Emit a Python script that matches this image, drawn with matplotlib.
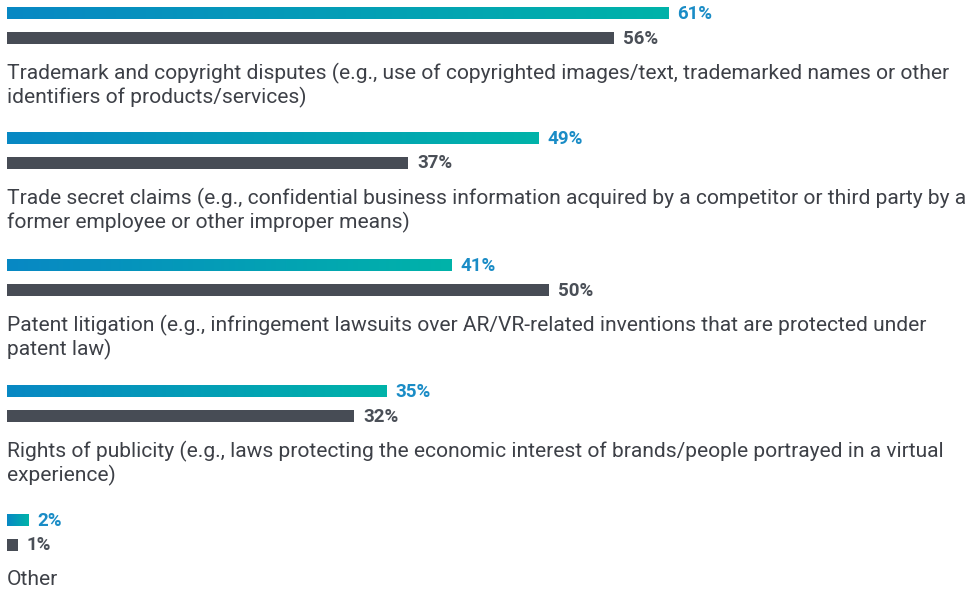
import numpy as np
import matplotlib.pyplot as plt
from matplotlib.colors import LinearSegmentedColormap

categories = [
    "Trademark and copyright disputes (e.g., use of copyrighted images/text, trademarked names or other\nidentifiers of products/services)",
    "Trade secret claims (e.g., confidential business information acquired by a competitor or third party by a\nformer employee or other improper means)",
    "Patent litigation (e.g., infringement lawsuits over AR/VR-related inventions that are protected under\npatent law)",
    "Rights of publicity (e.g., laws protecting the economic interest of brands/people portrayed in a virtual\nexperience)",
    "Other",
]
series_a = [61, 49, 41, 35, 2]
series_b = [56, 37, 50, 32, 1]

blue_label = '#1a8cc6'
grey_bar = '#474c55'
grey_label = '#4a4f57'
text_col = '#3d4047'
grad = LinearSegmentedColormap.from_list('g', ['#0888c4', '#00b3a9'])

plt.rcParams['font.family'] = ['Roboto', 'DejaVu Sans']

fig = plt.figure(figsize=(9.69, 5.90), dpi=100)
ax = fig.add_axes([0, 0, 1, 1])
px = 10.84  # pixels per percent
ax.set_xlim(-7 / px, (969 - 7) / px)
ax.set_ylim(590, 0)
ax.axis('off')

group_y = [13, 138, 265, 391, 520]
bh = 12
gradient = np.linspace(0, 1, 256).reshape(1, -1)

for y, a, b, cat in zip(group_y, series_a, series_b, categories):
    ax.barh(y, a, height=bh, color='none', edgecolor='none')
    ax.imshow(gradient, cmap=grad, aspect='auto',
              extent=(0, a, y + bh / 2, y - bh / 2), zorder=2)
    ax.barh(y + 24.5, b, height=bh, color=grey_bar)
    ax.text(a + 9 / px, y + 1, f'{a}%', va='center', ha='left',
            fontsize=13.5, fontweight='semibold', color=blue_label)
    ax.text(b + 9 / px, y + 25.5, f'{b}%', va='center', ha='left',
            fontsize=13.5, fontweight='semibold', color=grey_label)
    ax.text(0, y + 50, cat, va='top', ha='left', fontsize=15.1,
            color=text_col, linespacing=1.2)

ax.set_ylim(590, 0)
ax.set_xlim(-7 / px, (969 - 7) / px)
fig.savefig('out.png', dpi=100)
